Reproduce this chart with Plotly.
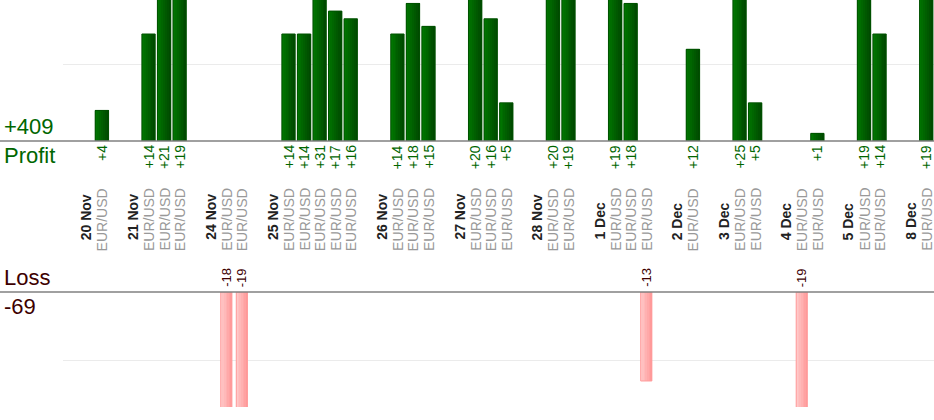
import plotly.graph_objects as go

# ---- data ----
days = ["20 Nov", "21 Nov", "24 Nov", "25 Nov", "26 Nov", "27 Nov", "28 Nov",
        "1 Dec", "2 Dec", "3 Dec", "4 Dec", "5 Dec", "8 Dec"]
trades_per_day = [1, 3, 2, 5, 3, 3, 2, 3, 1, 2, 2, 2, 1]
trade_pair = ["EUR/USD"] * 30
trade_result = [4,
                14, 21, 19,
                -18, -19,
                14, 14, 31, 17, 16,
                14, 18, 15,
                20, 16, 5,
                20, 19,
                19, 18, -13,
                12,
                25, 5,
                -19, 1,
                19, 14,
                19]

W, H = 934, 420
GREEN = "#006600"
LOSS_C = "#3d0000"
FONT = "Liberation Sans, Arial, sans-serif"

# slot layout: [gap][date][trades...] per day
date_slots, trade_slots = [], []
s = 0
for n in trades_per_day:
    s += 1
    date_slots.append(s)
    s += 1
    for _ in range(n):
        trade_slots.append(s)
        s += 1
n_slots = s

profit_total = sum(v for v in trade_result if v > 0)
loss_total = sum(v for v in trade_result if v < 0)

px = lambda p: 1 - p / H  # pixel y -> paper y

x_left = 63 / W
fig = go.Figure()

pos_x = [x for x, v in zip(trade_slots, trade_result) if v > 0]
pos_y = [v for v in trade_result if v > 0]
neg_x = [x for x, v in zip(trade_slots, trade_result) if v < 0]
neg_y = [v for v in trade_result if v < 0]


def lerp_col(c0, c1, t):
    a = [int(c0[i:i + 2], 16) for i in (1, 3, 5)]
    b = [int(c1[i:i + 2], 16) for i in (1, 3, 5)]
    return "rgb(%d,%d,%d)" % tuple(round(a[i] + (b[i] - a[i]) * t) for i in range(3))


def gradient_bars(xs, ys, w, c0, c1, border, xa, ya, n=7):
    for k in range(n):
        off = -w / 2 + k * w / n
        fig.add_trace(go.Bar(x=xs, y=ys, width=w - k * w / n, offset=off, xaxis=xa, yaxis=ya,
                             marker=dict(color=lerp_col(c0, c1, k / (n - 1)), line=dict(width=0)),
                             hoverinfo="skip"))
    fig.add_trace(go.Bar(x=xs, y=ys, width=w, offset=-w / 2, xaxis=xa, yaxis=ya,
                         marker=dict(color="rgba(0,0,0,0)", line=dict(color=border, width=1)),
                         hoverinfo="skip"))


gradient_bars(pos_x, pos_y, 0.86, "#007400", "#004a00", "#005200", "x", "y")
gradient_bars(neg_x, neg_y, 0.72, "#ffc8c8", "#ff9a9a", "#ff9c9c", "x2", "y2")

ann = []
for x, v in zip(trade_slots, trade_result):
    if v > 0:
        ann.append(dict(x=x, y=px(143), xref="x", yref="paper", text=f"+{v}",
                        textangle=-90, showarrow=False, xanchor="center", yanchor="top",
                        font=dict(family=FONT, size=14, color=GREEN)))
    else:
        ann.append(dict(x=x, y=px(289), xref="x", yref="paper", text=f"{v}",
                        textangle=-90, showarrow=False, xanchor="center", yanchor="bottom",
                        font=dict(family=FONT, size=13, color=LOSS_C)))
for x, d in zip(date_slots, days):
    ann.append(dict(x=x, y=px(242), xref="x", yref="paper", text=f"<b>{d}</b>",
                    textangle=-90, showarrow=False, xanchor="center", yanchor="bottom",
                    font=dict(family=FONT, size=14, color="#222222")))
for x, p in zip(trade_slots, trade_pair):
    ann.append(dict(x=x, y=px(253), xref="x", yref="paper", text=p,
                    textangle=-90, showarrow=False, xanchor="center", yanchor="bottom",
                    font=dict(family=FONT, size=14, color="#999999")))

ann += [
    dict(x=0.002, y=px(141), xref="paper", yref="paper", text=f"+{profit_total}",
         showarrow=False, xanchor="left", yanchor="bottom",
         font=dict(family=FONT, size=22, color=GREEN)),
    dict(x=0.002, y=px(141), xref="paper", yref="paper", text="Profit",
         showarrow=False, xanchor="left", yanchor="top",
         font=dict(family=FONT, size=22, color=GREEN)),
    dict(x=0.002, y=px(292), xref="paper", yref="paper", text="Loss",
         showarrow=False, xanchor="left", yanchor="bottom",
         font=dict(family=FONT, size=22, color=LOSS_C)),
    dict(x=0.002, y=px(292), xref="paper", yref="paper", text=f"{loss_total}",
         showarrow=False, xanchor="left", yanchor="top",
         font=dict(family=FONT, size=22, color=LOSS_C)),
]

shapes = [
    dict(type="line", xref="paper", yref="paper", x0=0, x1=1, y0=px(141), y1=px(141),
         line=dict(color="#808080", width=1.5)),
    dict(type="line", xref="paper", yref="paper", x0=0, x1=1, y0=px(292), y1=px(292),
         line=dict(color="#808080", width=1.5)),
]

fig.update_layout(
    width=W, height=H, margin=dict(l=0, r=0, t=0, b=0),
    paper_bgcolor="white", plot_bgcolor="white", showlegend=False,
    barmode="overlay", bargap=0, annotations=ann, shapes=shapes,
    xaxis=dict(domain=[x_left, 1], range=[-0.5, n_slots - 0.5], visible=False, fixedrange=True),
    xaxis2=dict(domain=[x_left, 1], range=[-0.5, n_slots - 0.5], visible=False, anchor="y2",
                matches="x"),
    yaxis=dict(domain=[px(141), 1], range=[0, 18.45], tickvals=[10], showticklabels=False,
               showgrid=True, gridcolor="#ebebeb", zeroline=False, showline=False),
    yaxis2=dict(domain=[px(407), px(292)], range=[-16.8, 0], tickvals=[-10],
                showticklabels=False, showgrid=True, gridcolor="#ebebeb", zeroline=False,
                showline=False, anchor="x2"),
)

fig.write_html("out.html", config={"staticPlot": True},
               post_script="document.body.style.margin='0px';document.body.style.overflow='hidden';")
